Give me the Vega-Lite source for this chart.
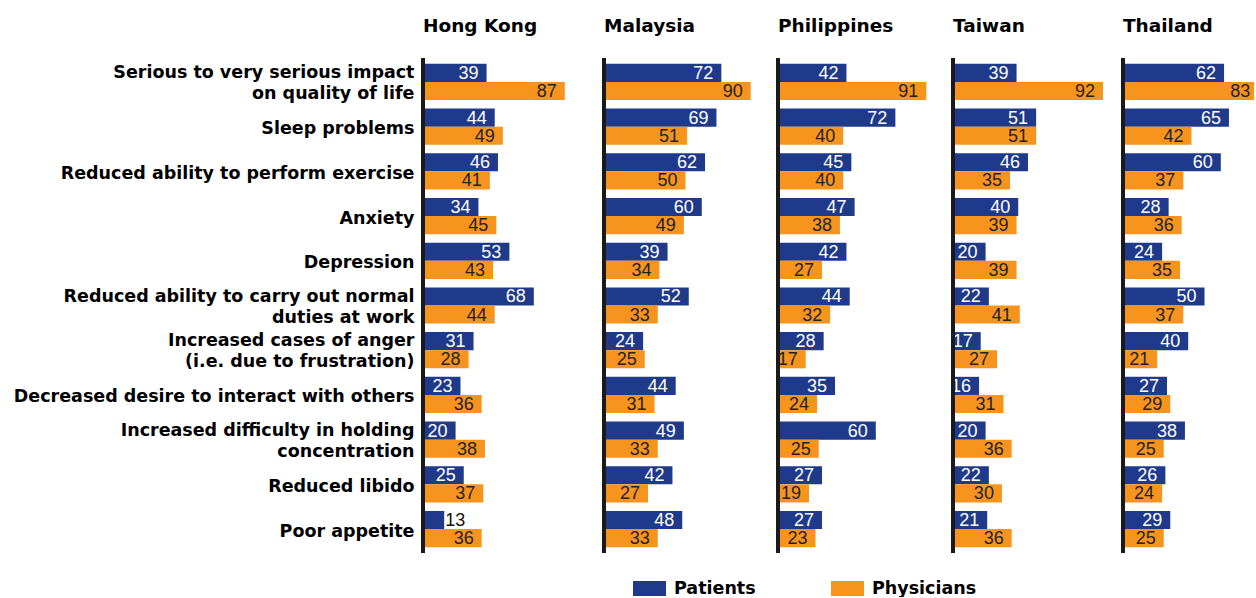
{
  "$schema": "https://vega.github.io/schema/vega-lite/v6.json",
  "padding": {"left": 13, "top": 17, "right": 0, "bottom": 0},
  "background": "#ffffff",
  "config": {
    "view": {"stroke": null},
    "title": {"font": "DejaVu Sans", "fontSize": 18.5, "fontWeight": "bold", "anchor": "start", "frame": "group", "offset": 21, "color": "#000000"}
  },
  "datasets": {
    "d": [
      {"country": "Hong Kong", "symptom": "Serious to very serious impact|on quality of life", "Patients": 39, "Physicians": 87},
      {"country": "Hong Kong", "symptom": "Sleep problems", "Patients": 44, "Physicians": 49},
      {"country": "Hong Kong", "symptom": "Reduced ability to perform exercise", "Patients": 46, "Physicians": 41},
      {"country": "Hong Kong", "symptom": "Anxiety", "Patients": 34, "Physicians": 45},
      {"country": "Hong Kong", "symptom": "Depression", "Patients": 53, "Physicians": 43},
      {"country": "Hong Kong", "symptom": "Reduced ability to carry out normal|duties at work", "Patients": 68, "Physicians": 44},
      {"country": "Hong Kong", "symptom": "Increased cases of anger\u00a0|(i.e. due to frustration)", "Patients": 31, "Physicians": 28},
      {"country": "Hong Kong", "symptom": "Decreased desire to interact with others", "Patients": 23, "Physicians": 36},
      {"country": "Hong Kong", "symptom": "Increased difficulty in holding\u00a0|concentration", "Patients": 20, "Physicians": 38},
      {"country": "Hong Kong", "symptom": "Reduced libido", "Patients": 25, "Physicians": 37},
      {"country": "Hong Kong", "symptom": "Poor appetite", "Patients": 13, "Physicians": 36},
      {"country": "Malaysia", "symptom": "Serious to very serious impact|on quality of life", "Patients": 72, "Physicians": 90},
      {"country": "Malaysia", "symptom": "Sleep problems", "Patients": 69, "Physicians": 51},
      {"country": "Malaysia", "symptom": "Reduced ability to perform exercise", "Patients": 62, "Physicians": 50},
      {"country": "Malaysia", "symptom": "Anxiety", "Patients": 60, "Physicians": 49},
      {"country": "Malaysia", "symptom": "Depression", "Patients": 39, "Physicians": 34},
      {"country": "Malaysia", "symptom": "Reduced ability to carry out normal|duties at work", "Patients": 52, "Physicians": 33},
      {"country": "Malaysia", "symptom": "Increased cases of anger\u00a0|(i.e. due to frustration)", "Patients": 24, "Physicians": 25},
      {"country": "Malaysia", "symptom": "Decreased desire to interact with others", "Patients": 44, "Physicians": 31},
      {"country": "Malaysia", "symptom": "Increased difficulty in holding\u00a0|concentration", "Patients": 49, "Physicians": 33},
      {"country": "Malaysia", "symptom": "Reduced libido", "Patients": 42, "Physicians": 27},
      {"country": "Malaysia", "symptom": "Poor appetite", "Patients": 48, "Physicians": 33},
      {"country": "Philippines", "symptom": "Serious to very serious impact|on quality of life", "Patients": 42, "Physicians": 91},
      {"country": "Philippines", "symptom": "Sleep problems", "Patients": 72, "Physicians": 40},
      {"country": "Philippines", "symptom": "Reduced ability to perform exercise", "Patients": 45, "Physicians": 40},
      {"country": "Philippines", "symptom": "Anxiety", "Patients": 47, "Physicians": 38},
      {"country": "Philippines", "symptom": "Depression", "Patients": 42, "Physicians": 27},
      {"country": "Philippines", "symptom": "Reduced ability to carry out normal|duties at work", "Patients": 44, "Physicians": 32},
      {"country": "Philippines", "symptom": "Increased cases of anger\u00a0|(i.e. due to frustration)", "Patients": 28, "Physicians": 17},
      {"country": "Philippines", "symptom": "Decreased desire to interact with others", "Patients": 35, "Physicians": 24},
      {"country": "Philippines", "symptom": "Increased difficulty in holding\u00a0|concentration", "Patients": 60, "Physicians": 25},
      {"country": "Philippines", "symptom": "Reduced libido", "Patients": 27, "Physicians": 19},
      {"country": "Philippines", "symptom": "Poor appetite", "Patients": 27, "Physicians": 23},
      {"country": "Taiwan", "symptom": "Serious to very serious impact|on quality of life", "Patients": 39, "Physicians": 92},
      {"country": "Taiwan", "symptom": "Sleep problems", "Patients": 51, "Physicians": 51},
      {"country": "Taiwan", "symptom": "Reduced ability to perform exercise", "Patients": 46, "Physicians": 35},
      {"country": "Taiwan", "symptom": "Anxiety", "Patients": 40, "Physicians": 39},
      {"country": "Taiwan", "symptom": "Depression", "Patients": 20, "Physicians": 39},
      {"country": "Taiwan", "symptom": "Reduced ability to carry out normal|duties at work", "Patients": 22, "Physicians": 41},
      {"country": "Taiwan", "symptom": "Increased cases of anger\u00a0|(i.e. due to frustration)", "Patients": 17, "Physicians": 27},
      {"country": "Taiwan", "symptom": "Decreased desire to interact with others", "Patients": 16, "Physicians": 31},
      {"country": "Taiwan", "symptom": "Increased difficulty in holding\u00a0|concentration", "Patients": 20, "Physicians": 36},
      {"country": "Taiwan", "symptom": "Reduced libido", "Patients": 22, "Physicians": 30},
      {"country": "Taiwan", "symptom": "Poor appetite", "Patients": 21, "Physicians": 36},
      {"country": "Thailand", "symptom": "Serious to very serious impact|on quality of life", "Patients": 62, "Physicians": 83},
      {"country": "Thailand", "symptom": "Sleep problems", "Patients": 65, "Physicians": 42},
      {"country": "Thailand", "symptom": "Reduced ability to perform exercise", "Patients": 60, "Physicians": 37},
      {"country": "Thailand", "symptom": "Anxiety", "Patients": 28, "Physicians": 36},
      {"country": "Thailand", "symptom": "Depression", "Patients": 24, "Physicians": 35},
      {"country": "Thailand", "symptom": "Reduced ability to carry out normal|duties at work", "Patients": 50, "Physicians": 37},
      {"country": "Thailand", "symptom": "Increased cases of anger\u00a0|(i.e. due to frustration)", "Patients": 40, "Physicians": 21},
      {"country": "Thailand", "symptom": "Decreased desire to interact with others", "Patients": 27, "Physicians": 29},
      {"country": "Thailand", "symptom": "Increased difficulty in holding\u00a0|concentration", "Patients": 38, "Physicians": 25},
      {"country": "Thailand", "symptom": "Reduced libido", "Patients": 26, "Physicians": 24},
      {"country": "Thailand", "symptom": "Poor appetite", "Patients": 29, "Physicians": 25}
    ]
  },
  "data": {"name": "d"},
  "transform": [{"fold": ["Patients", "Physicians"], "as": ["group", "value"]}],
  "spacing": 18,
  "resolve": {"scale": {"x": "independent", "y": "independent", "color": "shared"}, "legend": {"color": "shared"}},
  "hconcat": [
    {
      "width": 161, "height": 495, "title": "Hong Kong",
      "transform": [{"filter": "datum.country === 'Hong Kong'"}],
      "layer": [
        {"mark": {"type": "bar"},
         "encoding": {
           "y": {"field": "symptom", "type": "nominal", "sort": null, "scale": {"paddingInner": 0.19, "paddingOuter": 0.13},
                 "axis": {"title": null, "domain": false, "ticks": false, "labelFont": "DejaVu Sans", "labelFontWeight": "bold", "labelFontSize": 17.5, "labelColor": "#000000", "labelPadding": 9, "labelLimit": 0, "labelLineHeight": 21, "labelExpr": "split(datum.value, '|')",
                          "labelOffset": {"condition": {"test": "indexof(datum.value, '|') >= 0", "value": -9}, "value": 2.5}}},
           "yOffset": {"field": "group", "type": "nominal", "sort": ["Patients", "Physicians"], "scale": {"paddingInner": 0, "paddingOuter": 0}},
           "x": {"field": "value", "type": "quantitative", "scale": {"domain": [0, 98.77], "nice": false}, "axis": null},
           "color": {"field": "group", "type": "nominal", "scale": {"domain": ["Patients", "Physicians"], "range": ["#1f3a8a", "#f7941e"]},
                     "legend": {"title": null, "orient": "none", "legendX": 210, "legendY": 514, "direction": "horizontal", "symbolType": "M-1,-0.45L1,-0.45L1,0.45L-1,0.45Z", "symbolSize": 1089, "symbolStrokeWidth": 0, "symbolOpacity": 1, "labelFont": "DejaVu Sans", "labelFontWeight": "bold", "labelFontSize": 17.5, "labelColor": "#000000", "labelOffset": 8, "columnPadding": 75, "padding": 0}}
         }},
        {"transform": [{"filter": "datum.value >= 15"}],
         "mark": {"type": "text", "align": "right", "dx": -8, "baseline": "middle", "dy": 1, "font": "Liberation Sans", "fontSize": 18},
         "encoding": {
           "y": {"field": "symptom", "type": "nominal", "sort": null},
           "yOffset": {"field": "group", "type": "nominal", "sort": ["Patients", "Physicians"]},
           "x": {"field": "value", "type": "quantitative"},
           "text": {"field": "value", "type": "quantitative"},
           "color": {"condition": {"test": "datum.group === 'Patients'", "value": "#ffffff"}, "value": "#222222"}
         }},
        {"transform": [{"filter": "datum.value < 15"}],
         "mark": {"type": "text", "align": "left", "dx": 1, "baseline": "middle", "dy": 1, "font": "Liberation Sans", "fontSize": 18, "color": "#111111"},
         "encoding": {
           "y": {"field": "symptom", "type": "nominal", "sort": null},
           "yOffset": {"field": "group", "type": "nominal", "sort": ["Patients", "Physicians"]},
           "x": {"field": "value", "type": "quantitative"},
           "text": {"field": "value", "type": "quantitative"}
         }},
        {"mark": {"type": "rule", "strokeWidth": 3, "color": "#1a1a1a"}, "encoding": {"x": {"datum": 0}}}
      ]
    },
    {
      "width": 154, "height": 495, "title": "Malaysia",
      "transform": [{"filter": "datum.country === 'Malaysia'"}],
      "layer": [
        {"mark": {"type": "bar"},
         "encoding": {
           "y": {"field": "symptom", "type": "nominal", "sort": null, "scale": {"paddingInner": 0.19, "paddingOuter": 0.13}, "axis": null},
           "yOffset": {"field": "group", "type": "nominal", "sort": ["Patients", "Physicians"], "scale": {"paddingInner": 0, "paddingOuter": 0}},
           "x": {"field": "value", "type": "quantitative", "scale": {"domain": [0, 94.48], "nice": false}, "axis": null},
           "color": {"field": "group", "type": "nominal"}
         }},
        {"transform": [{"filter": "datum.value >= 15"}],
         "mark": {"type": "text", "align": "right", "dx": -8, "baseline": "middle", "dy": 1, "font": "Liberation Sans", "fontSize": 18},
         "encoding": {
           "y": {"field": "symptom", "type": "nominal", "sort": null},
           "yOffset": {"field": "group", "type": "nominal", "sort": ["Patients", "Physicians"]},
           "x": {"field": "value", "type": "quantitative"},
           "text": {"field": "value", "type": "quantitative"},
           "color": {"condition": {"test": "datum.group === 'Patients'", "value": "#ffffff"}, "value": "#222222"}
         }},
        {"mark": {"type": "rule", "strokeWidth": 3, "color": "#1a1a1a"}, "encoding": {"x": {"datum": 0}}}
      ]
    },
    {
      "width": 155, "height": 495, "title": "Philippines",
      "transform": [{"filter": "datum.country === 'Philippines'"}],
      "layer": [
        {"mark": {"type": "bar"},
         "encoding": {
           "y": {"field": "symptom", "type": "nominal", "sort": null, "scale": {"paddingInner": 0.19, "paddingOuter": 0.13}, "axis": null},
           "yOffset": {"field": "group", "type": "nominal", "sort": ["Patients", "Physicians"], "scale": {"paddingInner": 0, "paddingOuter": 0}},
           "x": {"field": "value", "type": "quantitative", "scale": {"domain": [0, 95.09], "nice": false}, "axis": null},
           "color": {"field": "group", "type": "nominal"}
         }},
        {"transform": [{"filter": "datum.value >= 15"}],
         "mark": {"type": "text", "align": "right", "dx": -8, "baseline": "middle", "dy": 1, "font": "Liberation Sans", "fontSize": 18},
         "encoding": {
           "y": {"field": "symptom", "type": "nominal", "sort": null},
           "yOffset": {"field": "group", "type": "nominal", "sort": ["Patients", "Physicians"]},
           "x": {"field": "value", "type": "quantitative"},
           "text": {"field": "value", "type": "quantitative"},
           "color": {"condition": {"test": "datum.group === 'Patients'", "value": "#ffffff"}, "value": "#222222"}
         }},
        {"mark": {"type": "rule", "strokeWidth": 3, "color": "#1a1a1a"}, "encoding": {"x": {"datum": 0}}}
      ]
    },
    {
      "width": 150, "height": 495, "title": "Taiwan",
      "transform": [{"filter": "datum.country === 'Taiwan'"}],
      "layer": [
        {"mark": {"type": "bar"},
         "encoding": {
           "y": {"field": "symptom", "type": "nominal", "sort": null, "scale": {"paddingInner": 0.19, "paddingOuter": 0.13}, "axis": null},
           "yOffset": {"field": "group", "type": "nominal", "sort": ["Patients", "Physicians"], "scale": {"paddingInner": 0, "paddingOuter": 0}},
           "x": {"field": "value", "type": "quantitative", "scale": {"domain": [0, 92.02], "nice": false}, "axis": null},
           "color": {"field": "group", "type": "nominal"}
         }},
        {"transform": [{"filter": "datum.value >= 15"}],
         "mark": {"type": "text", "align": "right", "dx": -8, "baseline": "middle", "dy": 1, "font": "Liberation Sans", "fontSize": 18},
         "encoding": {
           "y": {"field": "symptom", "type": "nominal", "sort": null},
           "yOffset": {"field": "group", "type": "nominal", "sort": ["Patients", "Physicians"]},
           "x": {"field": "value", "type": "quantitative"},
           "text": {"field": "value", "type": "quantitative"},
           "color": {"condition": {"test": "datum.group === 'Patients'", "value": "#ffffff"}, "value": "#222222"}
         }},
        {"mark": {"type": "rule", "strokeWidth": 3, "color": "#1a1a1a"}, "encoding": {"x": {"datum": 0}}}
      ]
    },
    {
      "width": 131, "height": 495, "title": "Thailand",
      "transform": [{"filter": "datum.country === 'Thailand'"}],
      "layer": [
        {"mark": {"type": "bar", "clip": true},
         "encoding": {
           "y": {"field": "symptom", "type": "nominal", "sort": null, "scale": {"paddingInner": 0.19, "paddingOuter": 0.13}, "axis": null},
           "yOffset": {"field": "group", "type": "nominal", "sort": ["Patients", "Physicians"], "scale": {"paddingInner": 0, "paddingOuter": 0}},
           "x": {"field": "value", "type": "quantitative", "scale": {"domain": [0, 80.37], "nice": false}, "axis": null},
           "color": {"field": "group", "type": "nominal"}
         }},
        {"transform": [{"filter": "datum.value >= 15"}],
         "mark": {"type": "text", "align": "right", "dx": -8, "baseline": "middle", "dy": 1, "font": "Liberation Sans", "fontSize": 18},
         "encoding": {
           "y": {"field": "symptom", "type": "nominal", "sort": null},
           "yOffset": {"field": "group", "type": "nominal", "sort": ["Patients", "Physicians"]},
           "x": {"field": "value", "type": "quantitative"},
           "text": {"field": "value", "type": "quantitative"},
           "color": {"condition": {"test": "datum.group === 'Patients'", "value": "#ffffff"}, "value": "#222222"}
         }},
        {"mark": {"type": "rule", "strokeWidth": 3, "color": "#1a1a1a"}, "encoding": {"x": {"datum": 0}}}
      ]
    }
  ]
}
